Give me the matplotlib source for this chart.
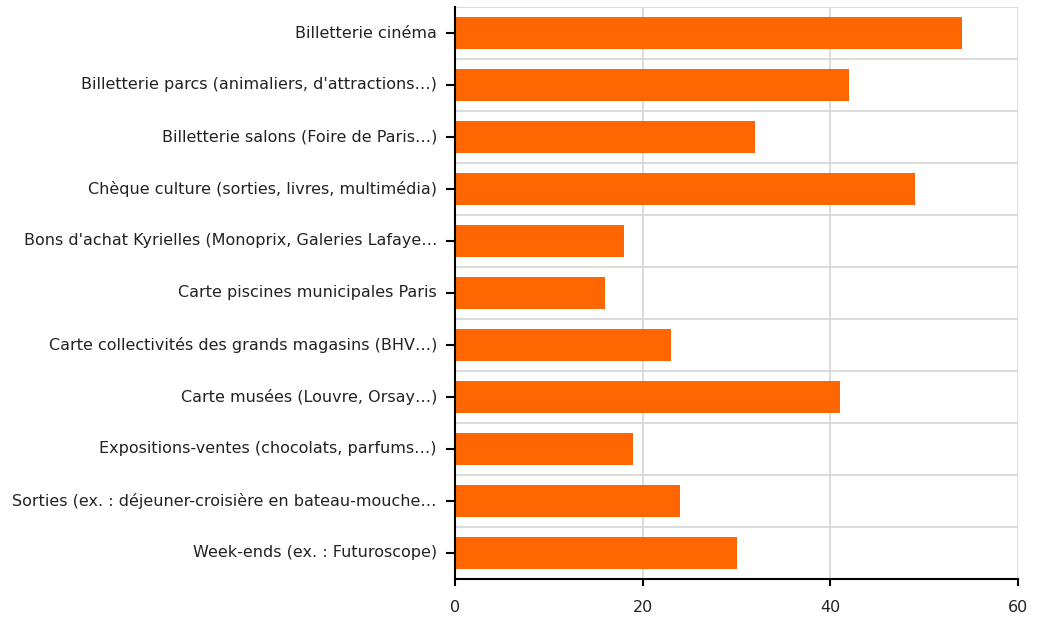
import matplotlib
matplotlib.use("Agg")
import matplotlib.pyplot as plt
import numpy as np

categories = [
    "Billetterie cinéma",
    "Billetterie parcs (animaliers, d'attractions…)",
    "Billetterie salons (Foire de Paris…)",
    "Chèque culture (sorties, livres, multimédia)",
    "Bons d'achat Kyrielles (Monoprix, Galeries Lafaye…",
    "Carte piscines municipales Paris",
    "Carte collectivités des grands magasins (BHV…)",
    "Carte musées (Louvre, Orsay…)",
    "Expositions-ventes (chocolats, parfums…)",
    "Sorties (ex. : déjeuner-croisière en bateau-mouche…",
    "Week-ends (ex. : Futuroscope)",
]
values = [54, 42, 32, 49, 18, 16, 23, 41, 19, 24, 30]
xticks = [0, 20, 40, 60]

fig = plt.figure(figsize=(10.41, 6.17), dpi=100)
ax = fig.add_axes([455/1041, 1-579/617, (1018-455)/1041, (579-7)/617])

n = len(categories)
y = np.arange(n)
ax.barh(y, values, height=0.62, color="#FF6600", zorder=3)
ax.set_ylim(n - 0.5, -0.5)
ax.set_xlim(0, 60)
ax.set_yticks(y)
ax.set_yticklabels(categories, fontsize=11.5, color="#222222", va="center")
ax.set_yticks(np.arange(n + 1) - 0.5, minor=True)
ax.set_xticks(xticks)
ax.set_xticklabels([str(t) for t in xticks], fontsize=11.5, color="#222222")

ax.grid(True, axis="x", color="#d6d6d6", linewidth=1.2, zorder=0)
ax.grid(True, axis="y", which="minor", color="#d6d6d6", linewidth=1.2, zorder=0)
ax.grid(False, axis="y", which="major")
ax.tick_params(axis="y", which="minor", length=0)
ax.tick_params(axis="y", which="major", length=6.5, width=1.5, pad=6.5)
ax.tick_params(axis="x", length=5, width=1.5, pad=10)

for s in ["top", "right"]:
    ax.spines[s].set_visible(False)
for s in ["left", "bottom"]:
    ax.spines[s].set_linewidth(1.5)
    ax.spines[s].set_color("black")
    ax.spines[s].set_zorder(4)

fig.savefig("out.png", dpi=100)
